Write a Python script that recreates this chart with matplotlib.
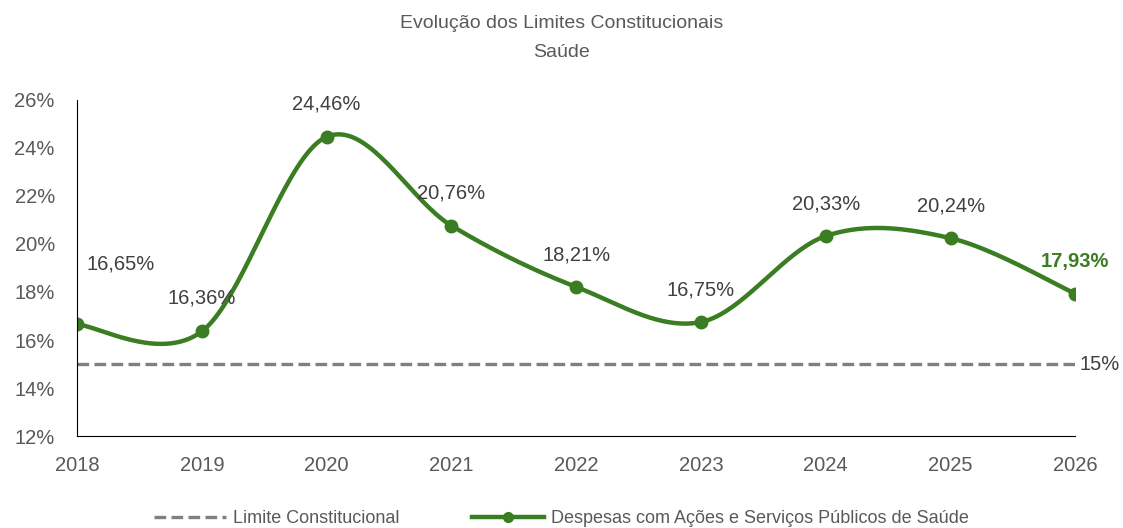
import numpy as np
import matplotlib
matplotlib.use('Agg')
import matplotlib.pyplot as plt
from matplotlib.ticker import FuncFormatter

anos = [2018, 2019, 2020, 2021, 2022, 2023, 2024, 2025, 2026]
despesas = [16.65, 16.36, 24.46, 20.76, 18.21, 16.75, 20.33, 20.24, 17.93]
limite = [15, 15, 15, 15, 15, 15, 15, 15, 15]
rotulos = ['16,65%', '16,36%', '24,46%', '20,76%', '18,21%', '16,75%', '20,33%', '20,24%', '17,93%']

plt.rcParams['font.family'] = ['Liberation Sans', 'DejaVu Sans']
cinza = '#595959'
verde = '#3A7D22'


def suaviza(x, y, n=40):
    # curva tipo Excel (catmull-rom)
    x = np.asarray(x, float)
    y = np.asarray(y, float)
    px = np.concatenate([[x[0]], x, [x[-1]]])
    py = np.concatenate([[y[0]], y, [y[-1]]])
    xs, ys = [], []
    t = np.linspace(0, 1, n)
    for i in range(1, len(px) - 2):
        p0, p1, p2, p3 = [np.array([px[j], py[j]]) for j in range(i - 1, i + 3)]
        c1 = p1 + (p2 - p0) / 6
        c2 = p2 - (p3 - p1) / 6
        b = ((1 - t) ** 3)[:, None] * p1 + (3 * (1 - t) ** 2 * t)[:, None] * c1 \
            + (3 * (1 - t) * t ** 2)[:, None] * c2 + (t ** 3)[:, None] * p2
        xs.extend(b[:, 0])
        ys.extend(b[:, 1])
    return np.array(xs), np.array(ys)


fig = plt.figure(figsize=(11.23, 5.28), dpi=100)
ax = fig.add_axes([0.0686, 0.174, 0.889, 0.637])

ax.plot(anos, limite, color='#808080', lw=2.4, ls=(0, (3.5, 1.6)), label='Limite Constitucional')
sx, sy = suaviza(anos, despesas)
ax.plot(sx, sy, color=verde, lw=3.2, solid_capstyle='round')
ax.plot(anos, despesas, 'o', color=verde, ms=9)
ax.plot([], [], color=verde, lw=3.2, marker='o', ms=7,
        label='Despesas com Ações e Serviços Públicos de Saúde')

desloc = {0: (0.35, 2.5), 1: (0, 1.4)}
for i, (a, v, r) in enumerate(zip(anos, despesas, rotulos)):
    dx, dy = desloc.get(i, (0, 1.35))
    if i == len(anos) - 1:
        ax.text(a + dx, v + dy, r, ha='center', va='center', fontsize=14.5,
                color=verde, fontweight='bold')
    else:
        ax.text(a + dx, v + dy, r, ha='center', va='center', fontsize=14.5, color='#404040')
ax.text(anos[-1] + 0.03, limite[-1], '15%', ha='left', va='center', fontsize=14.5, color='#404040')

ax.set_xlim(2018, 2026)
ax.set_ylim(12, 26)
ax.set_xticks(anos)
ax.set_yticks(range(12, 27, 2))
ax.yaxis.set_major_formatter(FuncFormatter(lambda v, p: '{:.0f}%'.format(v)))
ax.tick_params(length=0, labelsize=14.5, labelcolor=cinza, pad=14)
ax.tick_params(axis='y', pad=16)
for s in ['top', 'right']:
    ax.spines[s].set_visible(False)
ax.spines['left'].set_color('black')
ax.spines['bottom'].set_color('black')

fig.text(0.5, 0.955, 'Evolução dos Limites Constitucionais', ha='center', va='center',
         fontsize=14, color=cinza)
fig.text(0.5, 0.900, 'Saúde', ha='center', va='center', fontsize=14, color=cinza)

fig.legend(loc='center', bbox_to_anchor=(0.5, 0.018), ncol=2, frameon=False,
           fontsize=13, labelcolor=cinza, handlelength=4, handletextpad=0.4, columnspacing=4)

fig.savefig('out.png', dpi=100)
